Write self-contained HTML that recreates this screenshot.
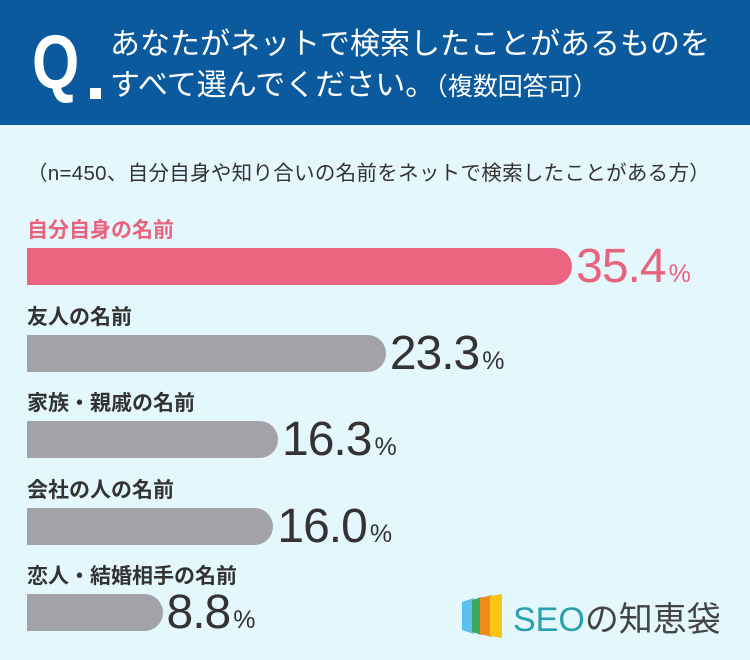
<!DOCTYPE html>
<html><head><meta charset="utf-8">
<style>
body{margin:0;width:750px;height:660px;background:#e4f7fc;font-family:"Liberation Sans","Noto Sans CJK JP",sans-serif;overflow:hidden;position:relative}
#hdr{position:absolute;left:0;top:0;width:750px;height:125px;background:#0b5a9e}
#q{position:absolute;left:32px;top:18px;color:#fff;font-size:76px;font-weight:bold;line-height:90px;transform:scaleX(0.8);transform-origin:left}
#qdot{position:absolute;left:90px;top:88px;width:11px;height:11px;background:#fff}
.ht{position:absolute;left:110px;color:#fff;font-size:30px;line-height:36px;white-space:nowrap}
#note{position:absolute;left:27px;top:156px;font-size:20.5px;color:#333;white-space:nowrap;letter-spacing:0.3px}
.lbl{position:absolute;left:27px;font-size:21px;font-weight:bold;color:#333;white-space:nowrap}
.bar{position:absolute;left:27px;height:37px;background:#a3a3a7;border-radius:0 19px 19px 0}
.val{position:absolute;font-size:48px;color:#333;white-space:nowrap;line-height:48px;letter-spacing:-1px}
.val small{font-size:25px;margin-left:3px;letter-spacing:0}
#logo{position:absolute;left:462px;top:594px}
#logotxt{position:absolute;left:513px;top:592px;font-size:34px;color:#2a9fb0;white-space:nowrap}
#logotxt span{color:#444}
</style></head><body>
<div id="hdr">
<div id="q">Q</div>
<div id="qdot"></div>
<div class="ht" style="top:27px">あなたがネットで検索したことがあるものを</div>
<div class="ht" style="top:68px">すべて選んでください。<span style="font-size:25px">（複数回答可）</span></div>
</div>
<div id="note">（n=450、自分自身や知り合いの名前をネットで検索したことがある方）</div>
<div id="chart"></div>
<svg id="logo" width="46" height="44">
<polygon points="0,8 12,4 12,40 0,36" fill="#5bc0eb"/>
<polygon points="10,6 20,3 20,41 10,38" fill="#3aa55b"/>
<polygon points="18,4 30,1 30,43 18,40" fill="#f08a1c"/>
<polygon points="28,2 40,0 40,44 28,42" fill="#fcc515"/>
</svg>
<div id="logotxt">SEO<span>の知恵袋</span></div>
<script>
const categories=["自分自身の名前","友人の名前","家族・親戚の名前","会社の人の名前","恋人・結婚相手の名前"];
const values=[35.4,23.3,16.3,16.0,8.8];
const valueLabels=["35.4","23.3","16.3","16.0","8.8"];
const chart=document.getElementById('chart');
const x0=27,scale=15.4,top0=248,step=86.5;
function xs(v){return v*scale;}
values.forEach((v,i)=>{
 const by=top0+i*step;
 const hl=i===0;
 const l=document.createElement('div');
 l.className='lbl';l.style.top=(by-34)+'px';l.textContent=categories[i];
 if(hl)l.style.color='#e8637e';
 
 
 chart.appendChild(l);
 const b=document.createElement('div');
 b.className='bar';b.style.top=by+'px';b.style.width=xs(v)+'px';
 if(hl)b.style.background='#ec6580';
 
 
 chart.appendChild(b);
 const t=document.createElement('div');
 t.className='val';t.style.left=(x0+xs(v)+4)+'px';t.style.top=(by-5)+'px';
 t.innerHTML=valueLabels[i]+'<small>%</small>';
 if(hl)t.style.color='#e8637e';
 
 
 chart.appendChild(t);
});
</script>
</body></html>
